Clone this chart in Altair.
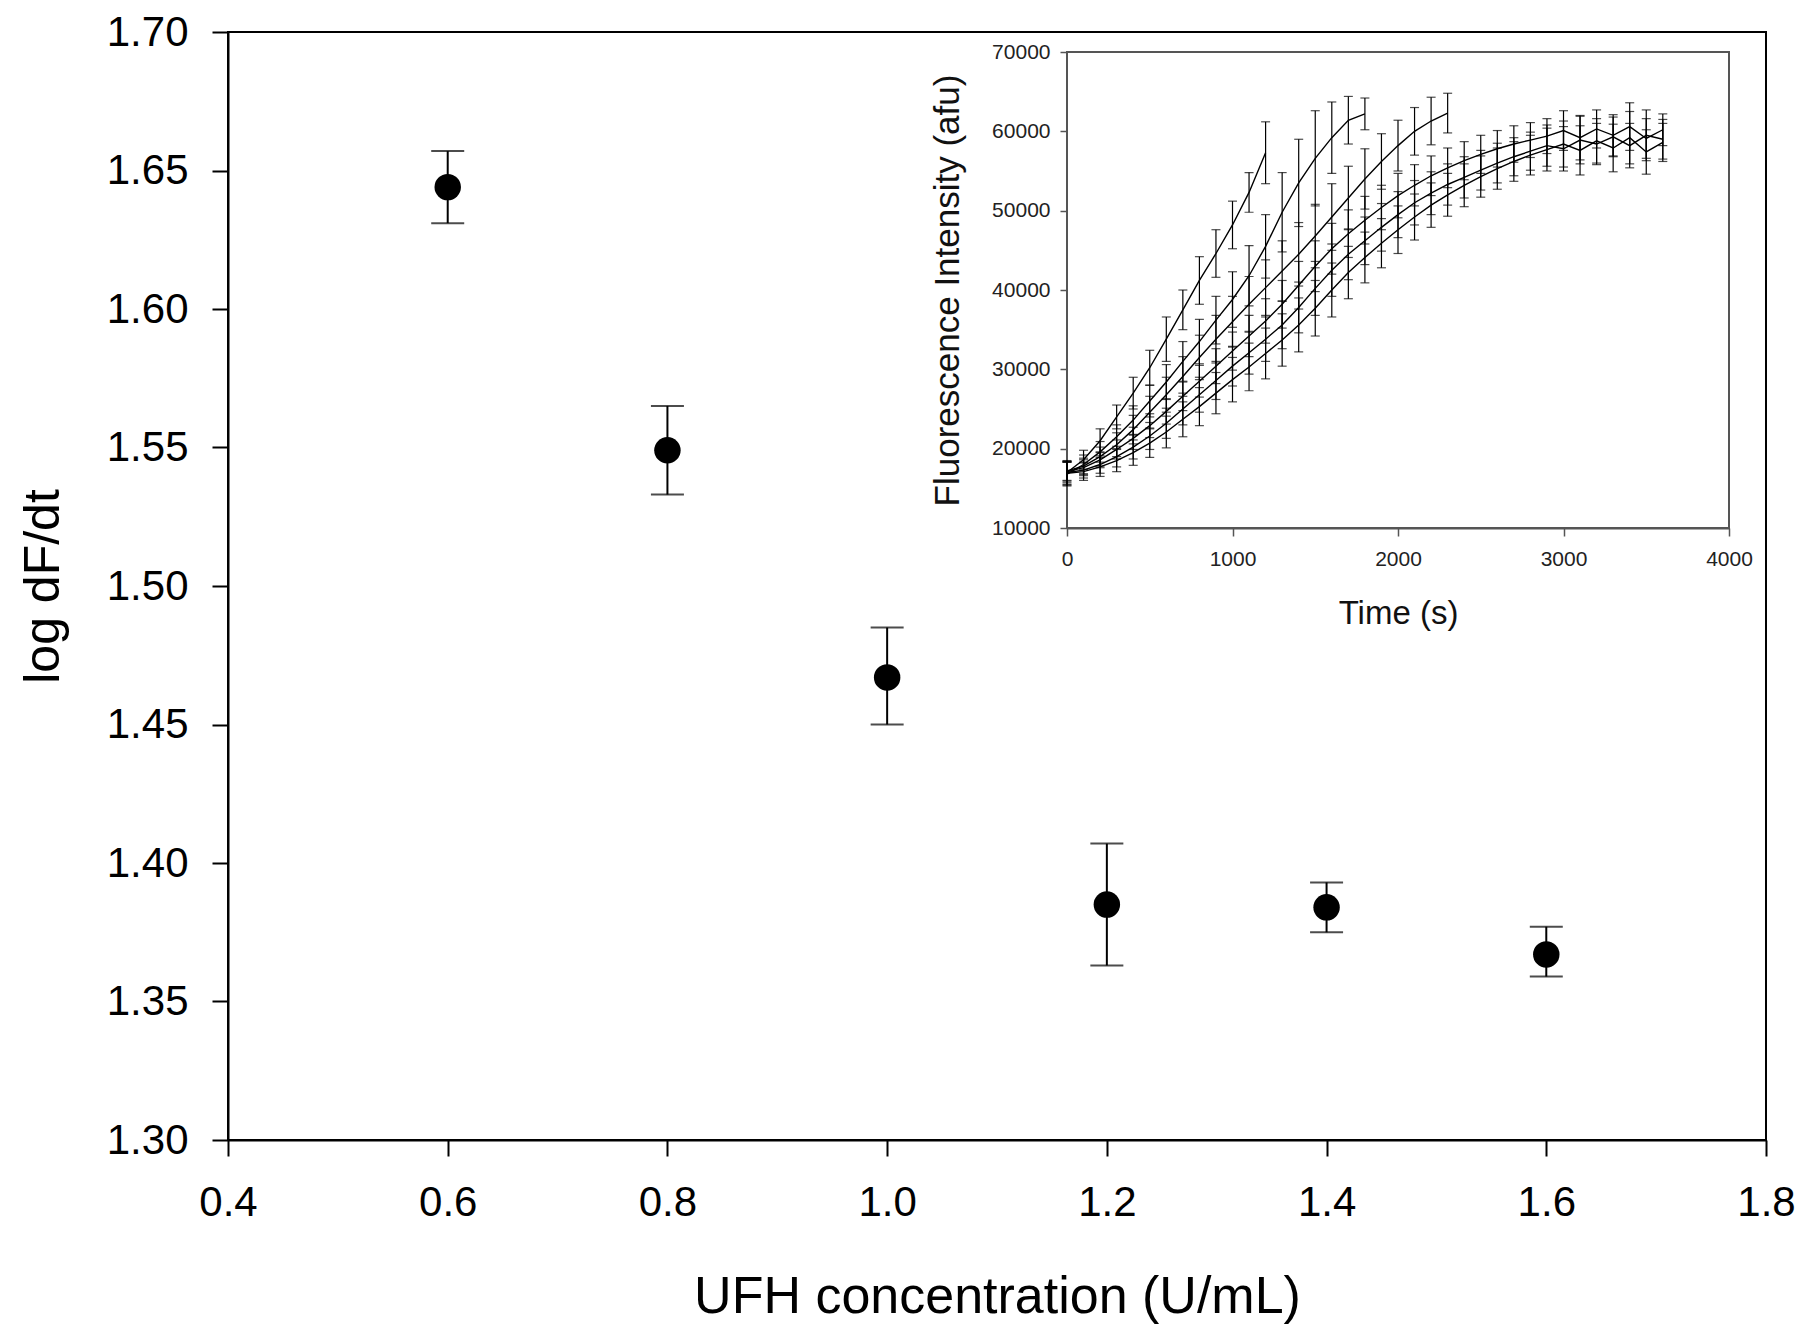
import altair as alt
import pandas as pd

FONT = "Liberation Sans"

# ---------------- main panel data ----------------
ufh_conc = [0.6, 0.8, 1.0, 1.2, 1.4, 1.6]
log_dfdt = [1.644, 1.549, 1.467, 1.385, 1.384, 1.367]
err_low = [1.631, 1.533, 1.450, 1.363, 1.375, 1.359]
err_high = [1.657, 1.565, 1.485, 1.407, 1.393, 1.377]

x_ticks = [0.4, 0.6, 0.8, 1.0, 1.2, 1.4, 1.6, 1.8]
y_ticks = [1.30, 1.35, 1.40, 1.45, 1.50, 1.55, 1.60, 1.65, 1.70]

# ---------------- inset data ----------------
time_s = [0, 100, 200, 300, 400, 500, 600, 700, 800, 900, 1000, 1100, 1200,
          1300, 1400, 1500, 1600, 1700, 1800, 1900, 2000, 2100, 2200, 2300,
          2400, 2500, 2600, 2700, 2800, 2900, 3000, 3100, 3200, 3300, 3400,
          3500, 3600]

curve_a = [17000, 18600, 21000, 24000, 27000, 30200, 33800, 37500, 41200,
           44600, 48200, 52300, 57300]
curve_a_err = [1500, 1200, 1500, 1500, 2000, 2200, 2800, 2500, 3000, 3000,
               3000, 2500, 3900]

curve_b = [16800, 18000, 19600, 21500, 23600, 26000, 28400, 31000, 33500,
           36200, 38800, 41800, 45500, 49800, 53500, 56600, 59200, 61400, 62200]
curve_b_err = [1500, 1200, 1300, 1500, 1800, 2000, 2200, 2500, 2800, 3000,
               3500, 3800, 4000, 5000, 5500, 6000, 4500, 3000, 2000]

curve_c = [17200, 17800, 19000, 20500, 22400, 24600, 26800, 29100, 31500,
           33800, 36000, 38200, 40300, 42400, 44500, 46800, 49200, 51600,
           54000, 56200, 58200, 60000, 61300, 62300]
curve_c_err = [1200, 1000, 1200, 1500, 1800, 2000, 2200, 2500, 2800, 3000,
               3200, 3500, 3500, 3800, 4000, 4000, 4200, 4000, 3800, 3500,
               3200, 3000, 3000, 2500]

curve_d = [17100, 17600, 18600, 19900, 21300, 22900, 24700, 26600, 28500,
           30400, 32300, 34200, 36100, 38200, 40600, 43000, 45200, 47100,
           48800, 50400, 51900, 53200, 54400, 55400, 56300, 57100, 57800,
           58400, 58900, 59400, 60100, 59200, 60300, 59500, 60600, 59100, 60200]
curve_d_err = [1200, 1000, 1000, 1200, 1400, 1500, 1600, 1800, 2000, 2200,
               2400, 2600, 2800, 3000, 3000, 3200, 3200, 3000, 3000, 2800,
               2800, 2600, 2500, 2500, 2400, 2400, 2300, 2300, 2200, 2200,
               2500, 2800, 2400, 2600, 3000, 2500, 2000]

curve_e = [17000, 17300, 18000, 19000, 20200, 21600, 23200, 25000, 26800,
           28600, 30400, 32100, 33800, 35600, 37800, 40200, 42500, 44500,
           46200, 47900, 49500, 51000, 52200, 53300, 54200, 55100, 56000,
           56800, 57500, 58200, 57800, 58900, 58400, 59300, 58200, 59500, 59000]
curve_e_err = [1300, 1000, 1100, 1300, 1500, 1700, 1900, 2000, 2200, 2400,
               2500, 2700, 2800, 3000, 3200, 3400, 3300, 3200, 3000, 3000,
               2900, 2800, 2700, 2600, 2600, 2500, 2500, 2400, 2400, 2600,
               2800, 3000, 2600, 2500, 2800, 3200, 2500]

curve_f = [16900, 17100, 17700, 18500, 19500, 20700, 22100, 23700, 25300,
           27000, 28700, 30300, 32000, 33700, 35600, 37700, 40000, 42200,
           44100, 45900, 47600, 49200, 50700, 52000, 53200, 54300, 55300,
           56200, 57000, 57700, 58400, 57600, 58800, 57900, 59200, 57400, 58600]
curve_f_err = [1500, 1100, 1200, 1400, 1600, 1800, 2000, 2200, 2400, 2600,
               2800, 3000, 3200, 3300, 3400, 3500, 3400, 3300, 3200, 3100,
               3000, 2900, 2800, 2700, 2700, 2600, 2600, 2500, 2500, 2700,
               2900, 3100, 2800, 3000, 3300, 2800, 2400]

inset_x_ticks = [0, 1000, 2000, 3000, 4000]
inset_y_ticks = [10000, 20000, 30000, 40000, 50000, 60000, 70000]

# ---------------- tables ----------------
main_df = pd.DataFrame({"c": ufh_conc, "v": log_dfdt, "lo": err_low, "hi": err_high})

rows = []
for name, vals, errs in [("A", curve_a, curve_a_err), ("B", curve_b, curve_b_err),
                         ("C", curve_c, curve_c_err), ("D", curve_d, curve_d_err),
                         ("E", curve_e, curve_e_err), ("F", curve_f, curve_f_err)]:
    for t, v, e in zip(time_s, vals, errs):
        rows.append({"curve": name, "t": t, "F": v, "lo": v - e, "hi": v + e})
inset_df = pd.DataFrame(rows)

# ---------------- main panel ----------------
main_x_scale = alt.Scale(domain=[0.4, 1.8], nice=False, zero=False)
main_y_scale = alt.Scale(domain=[1.30, 1.70], nice=False, zero=False)

main_x_axis = alt.Axis(
    orient="bottom", values=x_ticks, format=".1f", title="UFH concentration (U/mL)",
    grid=False, tickSize=16, tickWidth=2, tickColor="black", domainColor="black",
    domainWidth=2, labelFont=FONT, labelFontSize=42, labelColor="black",
    labelPadding=26, labelFlush=False, labelOverlap=False,
    titleFont=FONT, titleFontSize=52, titleFontWeight="normal", titleColor="black",
    titlePadding=48)
main_y_axis = alt.Axis(
    orient="left", values=y_ticks, format=".2f", title="log dF/dt",
    grid=False, tickSize=16, tickWidth=2, tickColor="black", domainColor="black",
    domainWidth=2, labelFont=FONT, labelFontSize=42, labelColor="black",
    labelPadding=24, labelFlush=False, labelOverlap=False,
    titleFont=FONT, titleFontSize=50, titleFontWeight="normal", titleColor="black",
    titlePadding=38)

main_err = alt.Chart(main_df).mark_errorbar(
    ticks=True, size=33, thickness=2, color="black"
).encode(
    x=alt.X("c:Q", scale=main_x_scale, axis=main_x_axis),
    y=alt.Y("lo:Q", scale=main_y_scale, axis=main_y_axis),
    y2="hi:Q",
)
main_pts = alt.Chart(main_df).mark_circle(size=700, color="black", opacity=1).encode(
    x=alt.X("c:Q", scale=main_x_scale, axis=main_x_axis),
    y=alt.Y("v:Q", scale=main_y_scale, axis=main_y_axis),
)
main_layer = alt.layer(main_err, main_pts)

# ---------------- inset panel ----------------
in_x_scale = alt.Scale(domain=[0, 4000], range=[839, 1501], nice=False, zero=False)
in_y_scale = alt.Scale(domain=[10000, 70000], range=[496, 20], nice=False, zero=False)

in_x_axis = alt.Axis(
    orient="bottom", offset=-612, values=inset_x_ticks, format="d", title="Time (s)",
    grid=False, tickSize=8, tickWidth=1.5, tickColor="#555555", domainColor="#555555",
    domainWidth=2, labelFont=FONT, labelFontSize=21, labelColor="#222222",
    labelPadding=12, labelFlush=False, labelOverlap=False,
    titleFont=FONT, titleFontSize=33, titleFontWeight="normal", titleColor="#111111",
    titlePadding=28)
in_y_axis = alt.Axis(
    orient="left", offset=-839, values=inset_y_ticks, format="d",
    title="Fluorescence Intensity (afu)",
    grid=False, tickSize=7, tickWidth=1.5, tickColor="#555555", domainColor="#555555",
    domainWidth=2, labelFont=FONT, labelFontSize=21, labelColor="#222222",
    labelPadding=10, labelFlush=False, labelOverlap=False,
    titleFont=FONT, titleFontSize=35, titleFontWeight="normal", titleColor="#111111",
    titlePadding=26)

frame = alt.Chart(main_df).mark_rect(
    fill="white", stroke="#555555", strokeWidth=2
).encode(
    x=alt.datum(0, scale=in_x_scale, axis=in_x_axis),
    x2=alt.datum(4000),
    y=alt.datum(10000, scale=in_y_scale, axis=in_y_axis),
    y2=alt.datum(70000),
)

in_err = alt.Chart(inset_df).mark_errorbar(
    ticks=True, size=9, thickness=1.2, color="black"
).encode(
    x=alt.X("t:Q", scale=in_x_scale, axis=in_x_axis),
    y=alt.Y("lo:Q", scale=in_y_scale, axis=in_y_axis),
    y2="hi:Q",
    detail="curve:N",
)
in_lines = alt.Chart(inset_df).mark_line(color="black", strokeWidth=1.4).encode(
    x=alt.X("t:Q", scale=in_x_scale, axis=in_x_axis),
    y=alt.Y("F:Q", scale=in_y_scale, axis=in_y_axis),
    detail="curve:N",
    order="t:Q",
)
inset_layer = alt.layer(frame, in_err, in_lines)

chart = alt.layer(main_layer, inset_layer).resolve_scale(
    x="independent", y="independent"
).properties(
    width=1538, height=1108,
    autosize=alt.AutoSizeParams(type="none"),
    padding={"left": 228, "top": 32, "right": 38, "bottom": 184},
    background="white",
).configure_view(stroke="black", strokeWidth=2)

chart.save("out.html", embed_options={"renderer": "svg", "actions": False})
